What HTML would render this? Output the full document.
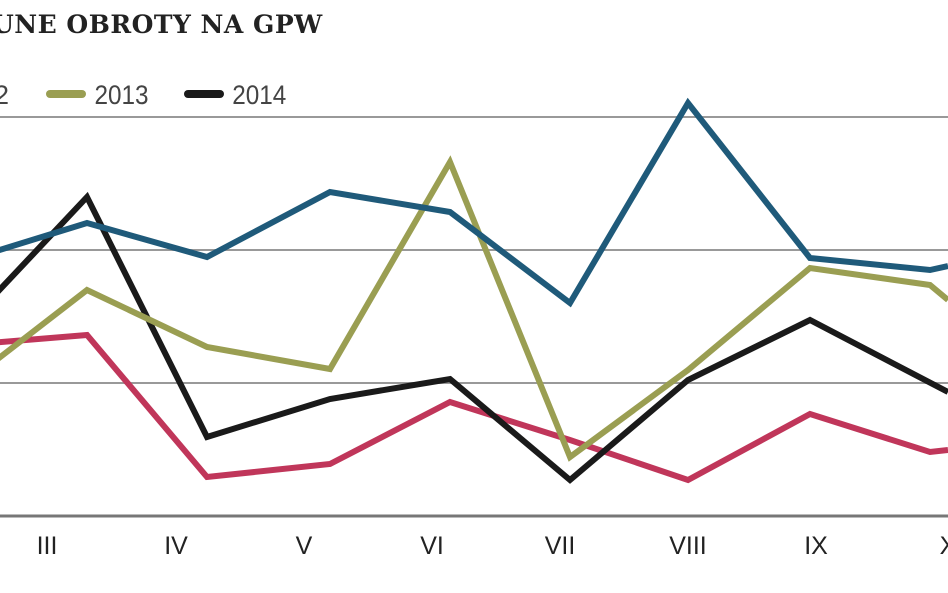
<!DOCTYPE html>
<html><head><meta charset="utf-8"><style>
html,body{margin:0;padding:0;background:#fff;width:948px;height:593px;overflow:hidden}
svg{display:block}
</style></head><body>
<svg width="948" height="593" viewBox="0 0 948 593" xmlns="http://www.w3.org/2000/svg">
<text x="-8" y="33" font-family="'DejaVu Serif','Liberation Serif',serif" font-weight="bold" font-size="25" fill="#222" letter-spacing="0.5">UNE OBROTY NA GPW</text>
<text x="-6" y="104" font-family="'Liberation Sans',sans-serif" font-size="27" fill="#444">2</text>
<line x1="50" y1="94" x2="82" y2="94" stroke="#9a9e52" stroke-width="8" stroke-linecap="round"/>
<text x="95" y="104" font-family="'Liberation Sans',sans-serif" font-size="27" fill="#444" transform="scale(0.9,1) translate(10,0)">2013</text>
<line x1="188" y1="94" x2="220" y2="94" stroke="#1a1a1a" stroke-width="8" stroke-linecap="round"/>
<text x="258" y="104" font-family="'Liberation Sans',sans-serif" font-size="27" fill="#444" transform="scale(0.9,1)">2014</text>
<g stroke="#999" stroke-width="2">
<line x1="0" y1="117" x2="948" y2="117"/>
<line x1="0" y1="250" x2="948" y2="250"/>
<line x1="0" y1="383" x2="948" y2="383"/>
</g>
<line x1="0" y1="516" x2="948" y2="516" stroke="#777" stroke-width="3"/>
<g fill="none" stroke-width="6" stroke-linejoin="miter">
<polyline stroke="#c0365a" points="-10,343 87,335 207,477 330,464 450,402 570,440 688,480 810,414 930,452 948,450"/>
<polyline stroke="#1a1a1a" points="-10,300 87,197 207,437 330,399 450,379 570,480 688,380 810,320 948,392"/>
<polyline stroke="#9a9e52" points="-10,365 87,290 207,347 330,369 450,162 570,457 688,370 810,268 930,285 948,300"/>
<polyline stroke="#1f5a7a" points="-10,253 87,223 207,257 330,192 450,212 570,303 688,103 810,258 930,270 948,266"/>
</g>
<g font-family="'Liberation Sans',sans-serif" font-size="25" fill="#222" text-anchor="middle">
<text x="47" y="554">III</text>
<text x="176" y="554">IV</text>
<text x="304" y="554">V</text>
<text x="432" y="554">VI</text>
<text x="560" y="554">VII</text>
<text x="688" y="554">VIII</text>
<text x="816" y="554">IX</text>
<text x="948" y="554">X</text>
</g>
</svg>
</body></html>
